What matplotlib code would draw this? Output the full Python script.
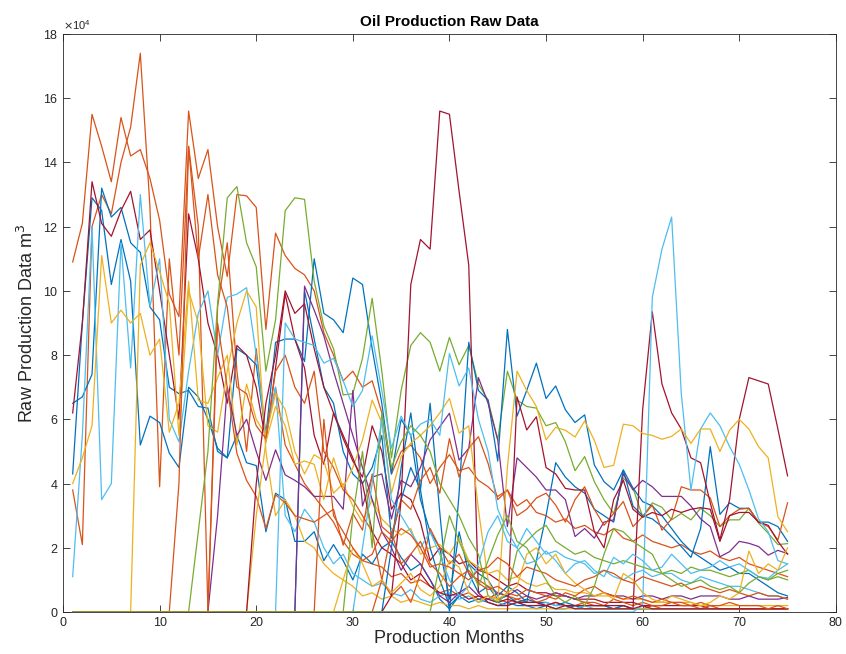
import numpy as np
import matplotlib
matplotlib.use("Agg")
from matplotlib import pyplot as plt

# MATLAB default colour order
blue = "#0072BD"
orange = "#D95319"
yellow = "#EDB120"
purple = "#7E2F8E"
green = "#77AC30"
lightblue = "#4DBEEE"
darkred = "#A2142F"

n_months = 75

# production per well, in units of 1e4 m^3, listed from the first month of production
w01 = [10.9, 12.1, 15.5, 14.5, 13.4, 15.4, 14.2, 14.4, 13.5, 12.2, 9.9, 9.2, 15.6, 13.5, 14.4, 12.0, 10.45, 13.0, 12.96, 12.6,
       8.8, 11.8, 11.1, 10.7, 10.5, 10.0, 8.7, 8.0, 7.2, 7.5, 7.0, 7.2, 6.2, 4.3, 5.0, 5.2, 4.8, 4.0, 4.5, 4.9,
       4.4, 4.5, 4.1, 3.9, 3.6, 3.8, 3.3, 3.5, 3.1, 3.0, 2.8, 2.9, 2.6, 2.7, 2.5, 2.4, 2.6, 2.3, 2.2, 2.4,
       2.2, 2.1, 2.0, 2.1, 1.9, 1.8, 1.9, 1.7, 1.6, 1.7, 1.5, 1.4, 1.3, 1.2, 1.1]
w02 = [3.8, 2.1, 12.0, 13.0, 12.4, 14.0, 15.1, 17.4, 12.6, 3.9, 11.0, 8.0, 14.5, 12.0, 0.0, 9.5, 11.5, 7.5, 5.0, 8.2,
       5.5, 7.0, 5.2, 4.6, 4.0, 3.6, 3.2, 2.8, 2.2, 1.8, 1.6, 1.5, 1.4, 1.1, 1.2, 0.9, 1.0, 0.8, 0.6, 0.7,
       0.5, 0.6, 0.4, 0.5, 0.4, 0.3, 0.4, 0.3, 0.3, 0.2, 0.3, 0.2, 0.2, 0.3, 0.2, 0.2, 0.1, 0.2, 0.1, 0.1,
       0.2, 0.1, 0.1, 0.1, 0.1, 0.1, 0.1, 0.1, 0.1, 0.1, 0.1, 0.1, 0.1, 0.1, 0.1]
w03 = [6.5, 6.7, 7.4, 13.2, 12.3, 12.6, 11.5, 11.2, 9.5, 9.1, 7.0, 6.8, 6.9, 6.4, 6.35, 5.0, 4.8, 5.5, 4.65, 4.56,
       2.5, 3.7, 3.5, 2.2, 2.2, 2.5, 1.6, 2.1, 1.6, 1.0, 1.8, 1.5, 2.0, 2.2, 1.7, 1.3, 1.5, 1.0, 0.4, 0.1,
       0.5, 0.3, 0.4, 0.3, 0.2, 0.3, 0.2, 0.2, 0.1, 0.2, 0.1, 0.1, 0.2, 0.1, 0.1, 0.1, 0.1, 0.1, 0.1, 0.1,
       0.1, 0.1, 0.1, 0.1, 0.1, 0.1, 0.1, 0.1, 0.1, 0.1, 0.1, 0.1, 0.1, 0.1, 0.1]
w04 = [4.3, 9.0, 12.9, 12.5, 10.2, 11.6, 10.3, 5.2, 6.1, 5.9, 4.95, 4.5, 7.0, 6.7, 6.0, 5.1, 4.8, 8.2, 8.0, 7.7,
       5.5, 8.4, 8.5, 8.5, 7.8, 11.0, 9.3, 9.1, 8.7, 10.4, 10.2, 8.2, 6.5, 4.3, 6.0, 5.5, 3.5, 2.5, 2.0, 0.4,
       2.5, 1.2, 0.6, 0.8, 0.4, 0.5, 0.3, 0.4, 0.3, 0.3, 0.2, 0.3, 0.2, 0.2, 0.2, 0.2, 0.1, 0.2, 0.1, 0.1,
       0.1, 0.1, 0.1, 0.1, 0.1, 0.1, 0.1, 0.1, 0.1, 0.1, 0.1, 0.1, 0.1, 0.1, 0.1]
w05 = [6.2, 9.0, 13.4, 12.1, 11.7, 12.5, 13.1, 11.6, 11.9, 10.0, 8.0, 6.0, 12.4, 11.0, 9.0, 8.0, 6.5, 8.3, 8.0, 7.0,
       5.3, 7.6, 9.9, 8.5, 7.6, 5.5, 4.6, 6.2, 5.4, 4.7, 4.2, 5.8, 5.0, 3.2, 3.7, 3.5, 2.8, 1.6, 2.0, 1.8,
       1.5, 1.6, 1.3, 1.2, 1.0, 0.8, 0.9, 0.7, 0.6, 0.6, 0.5, 0.5, 0.4, 0.4, 0.4, 0.3, 0.3, 0.3, 0.3, 0.2,
       0.2, 0.2, 0.2, 0.2, 0.2, 0.2, 0.1, 0.1, 0.1, 0.1, 0.1, 0.1, 0.1, 0.1, 0.1]
w06 = [1.1, 5.5, 12.0, 3.5, 4.0, 11.5, 7.6, 13.0, 9.5, 11.0, 6.0, 5.3, 7.5, 9.3, 10.0, 8.0, 9.8, 9.9, 10.1, 8.0,
       5.5, 7.0, 3.0, 2.5, 3.2, 2.8, 2.0, 1.5, 1.8, 1.2, 1.0, 0.8, 0.9, 0.6, 0.5, 0.7, 0.4, 0.3, 0.5, 0.6,
       0.4, 0.5, 0.3, 0.4, 0.3, 0.2, 0.3, 0.2, 0.2, 0.3, 0.2, 0.2, 0.1, 0.2, 0.1, 0.1, 0.1, 0.1, 0.1, 0.1,
       0.1, 0.1, 0.1, 0.1, 0.1, 0.1, 0.1, 0.1, 0.1, 0.1, 0.1, 0.1, 0.1, 0.1, 0.1]
w07 = [4.0, 4.8, 5.8, 11.1, 9.0, 9.4, 9.0, 9.3, 8.0, 8.5, 5.6, 6.5, 10.3, 6.6, 6.5, 7.3, 8.0, 5.2, 7.1, 6.0,
       5.5, 6.8, 6.3, 5.0, 4.3, 4.9, 4.7, 3.7, 4.0, 3.3, 2.8, 3.5, 2.9, 2.6, 2.4, 2.6, 1.8, 2.0, 2.1, 1.8,
       2.3, 1.6, 1.4, 1.2, 1.3, 1.0, 1.1, 0.9, 0.8, 0.9, 0.7, 0.7, 0.6, 0.6, 0.5, 0.5, 0.5, 0.4, 0.4, 0.4,
       0.3, 0.3, 0.3, 0.3, 0.3, 0.2, 0.2, 0.2, 0.2, 0.2, 0.2, 0.2, 0.2, 0.2, 0.2]
w08 = [0, 10.8, 11.5, 10.6, 9.6, 5.5, 10.0, 9.0, 5.8, 5.6, 7.5, 9.0, 10.0, 9.5, 5.0, 3.0, 3.5, 3.0, 2.2, 2.0,
       1.5, 1.2, 1.0, 0.8, 0.5, 0.6, 0.4, 0.5, 0.3, 0.4, 0.3, 0.2, 0.3, 0.2, 0.2, 0.1, 0.2, 0.1, 0.1, 0.1,
       0.1, 0.1, 0.1, 0.1, 0.1, 0.1, 0.1, 0.1, 0.1, 0.1, 0.1, 0.1, 0.1, 0.1, 0.1, 0.1, 0.1, 0.1, 0.1, 0.1,
       0.1, 0.1, 0.1, 0.1, 0.1, 0.1, 0.1, 0.1, 0.1]
w09 = [0, 4.0, 14.5, 11.0, 13.0, 10.5, 9.5, 7.0, 6.8, 5.8, 5.4, 7.5, 8.0, 7.0, 6.5, 7.5, 5.0, 4.5, 3.8, 3.5,
       3.0, 2.5, 1.0, 0.5, 0.8, 0.3, 1.2, 2.6, 2.0, 1.5, 1.8, 1.2, 1.0, 0.8, 0.6, 0.5, 0.4, 0.5, 0.3, 0.4,
       0.6, 0.5, 0.4, 0.3, 0.3, 0.2, 0.4, 0.3, 0.2, 0.3, 0.2, 0.2, 0.3, 0.2, 0.2, 0.1, 0.2, 0.1, 0.1, 0.1,
       0.1, 0.1, 0.1, 0.1, 0.1]
w10 = [0, 2.5, 5.0, 9.6, 12.9, 13.25, 11.5, 10.75, 7.5, 9.1, 12.5, 12.9, 12.85, 10.3, 8.9, 8.2, 6.76, 6.8, 7.9, 9.77,
       7.5, 4.8, 6.9, 8.3, 8.7, 8.4, 7.5, 8.55, 7.7, 8.3, 7.1, 6.6, 5.36, 7.5, 6.6, 6.4, 6.35, 5.8, 5.9, 5.3,
       4.4, 4.84, 4.06, 3.5, 3.07, 4.17, 3.86, 2.97, 3.4, 3.26, 2.87, 3.07, 2.87, 3.23, 3.0, 2.66, 2.87, 2.87, 3.23, 2.77,
       2.45, 2.1, 2.13]
w11 = [2.0, 4.5, 6.2, 3.8, 6.5, 3.1, 0.0, 3.7, 8.4, 6.9, 6.6, 4.7, 8.8, 6.1, 6.9, 7.75, 6.65, 7.04, 6.3, 5.9,
       6.14, 4.58, 4.06, 3.8, 4.42, 3.86, 3.44, 3.3, 3.0, 2.6, 2.2, 1.9, 1.7, 1.5, 1.3, 1.4, 1.2, 1.2, 1.0, 0.8,
       0.6, 0.5]
w12 = [0, 10.0, 8.5, 7.0, 6.5, 5.0, 4.3, 4.0, 4.5, 5.5, 2.3, 3.5, 4.5, 3.8, 2.0, 1.0, 0.2, 0.5, 1.5, 1.2,
       1.0, 0.5, 0.8, 0.6, 0.3, 1.6, 3.0, 4.65, 4.2, 3.9, 3.7, 3.2, 3.0, 2.8, 4.42, 3.3, 3.0, 2.9, 2.66, 2.35,
       2.04, 1.7, 2.6, 5.15, 3.04, 3.4, 3.23, 3.23, 2.8, 2.8, 2.66, 2.2]
w13 = [0, 3.0, 7.0, 5.5, 6.0, 5.0, 4.1, 5.05, 4.27, 4.1, 3.9, 3.6, 3.6, 3.6, 3.2, 6.9, 3.3, 4.2, 4.3, 2.9,
       4.1, 3.9, 4.5, 5.36, 5.77, 6.19, 4.73, 5.1, 7.3, 6.5, 5.36, 2.66, 4.8, 4.5, 4.2, 3.8, 3.8, 3.5, 2.35, 2.6,
       2.3, 2.8, 2.87, 4.3, 3.8, 4.1, 3.9, 3.6, 3.6, 3.6, 3.3, 2.9, 2.66, 1.72, 1.88, 2.2, 2.14, 2.04, 1.77, 1.92,
       1.82]
w14 = [0, 10.15, 9.4, 8.6, 7.5, 6.5, 5.5, 4.5, 3.5, 2.5, 2.0, 1.3, 1.8, 1.5, 1.0, 0.5, 0.3, 0.6, 0.8, 0.5,
       0.4, 0.6, 0.5, 0.7, 0.5, 0.4, 0.5, 0.6, 0.5, 0.4, 0.5, 0.5, 0.6, 0.5, 0.5, 0.4, 0.5, 0.5, 0.4, 0.5,
       0.5, 0.4, 0.5, 0.5, 0.5, 0.4, 0.4, 0.5, 0.4, 0.4, 0.4, 0.45]
w15 = [0, 9.0, 7.0, 4.94, 4.1, 3.6, 2.6, 3.65, 3.4, 3.0, 2.9, 2.8, 3.0, 3.2, 2.08, 3.07, 2.55, 4.3, 2.66, 2.4,
       3.5, 3.2, 4.1, 4.5, 3.7, 5.4, 4.2, 5.1, 5.46, 4.63, 3.5, 3.8, 3.0, 3.2, 3.55, 3.7, 3.33, 2.8, 3.5, 3.9,
       3.2, 2.7, 3.07, 3.44, 2.66, 2.97, 3.33, 2.55, 2.9, 3.9, 3.8, 3.8, 3.55, 2.66, 3.0, 3.2, 3.23, 2.8, 2.66, 2.24,
       3.4]
w16 = [0, 0.5, 3.5, 10.2, 11.6, 11.3, 15.6, 15.5, 13.1, 10.8, 0.6, 0.3,
       0.2, 0.2, 0.3, 0.2, 0.2, 0.2, 0.1, 0.2, 0.1, 0.1, 0.1, 0.1, 0.1, 0.1, 0.1,
       6.3, 9.35, 7.1, 6.2, 5.7, 4.8, 4.65, 3.4, 2.25, 3.5, 6.0, 7.3, 7.2, 7.1, 5.7, 4.24]
w17 = [0, 6.7, 5.67, 6.08, 4.5, 4.3, 3.85, 3.8, 3.8, 2.5, 2.0, 3.5, 4.1, 3.2, 2.95, 3.1, 3.0, 3.2, 3.1, 3.2,
       3.25, 3.2, 2.2, 3.0, 3.1, 3.1, 2.8, 2.7, 2.2, 1.8]
w18 = [0.2, 9.8, 11.3, 12.3, 6.8, 3.8, 5.7, 6.2, 5.8, 5.15, 4.6, 3.8, 2.9, 2.5, 1.6, 1.5]
w19 = [0, 3.0, 5.3, 6.4, 5.8, 4.6, 4.7, 4.6, 3.5, 4.8, 3.86, 4.5, 5.36, 6.6, 5.9, 3.7, 4.84, 5.26, 5.5, 5.8,
       6.2, 6.65, 5.57, 5.8, 3.2, 1.0, 0.3, 4.5, 7.5, 6.9, 6.4, 5.36, 5.75, 5.66, 5.45, 5.95, 5.35, 4.5, 4.57, 5.85,
       5.8, 5.56, 5.5, 5.38, 5.47, 5.7, 5.25, 5.7, 5.7, 5.0, 5.66, 6.0, 5.7, 5.15, 4.8, 2.97, 2.5]
w20 = [0, 4.0, 6.5, 8.0, 10.0, 9.3, 9.6, 8.2, 7.0, 6.2, 5.5, 4.8, 4.0, 2.5, 2.0, 1.8, 1.5, 1.0, 1.2, 0.8,
       0.6, 0.5, 0.6, 0.4, 0.5, 0.4, 0.3, 0.4, 0.3, 0.3, 0.3, 0.2, 0.3, 0.2, 0.2, 0.2, 0.2, 0.2, 0.2, 0.2,
       0.1, 0.2, 0.1, 0.1, 0.1, 0.1, 0.1, 0.1, 0.1, 0.1, 0.1, 0.1, 0.1, 0.1, 0.1, 0.1, 0.1]
w21 = [0, 9.0, 8.5, 8.4, 8.3, 7.75, 7.9, 7.2, 6.4, 6.9, 8.6, 6.9, 5.1, 6.1, 5.5, 5.85, 6.0, 5.5, 8.05, 7.04,
       7.6, 6.0, 5.0, 3.2, 2.5, 2.0, 2.6, 2.2, 1.8, 1.9, 1.7, 1.6, 1.5, 1.2, 1.3, 1.1, 1.0, 1.2, 1.3, 1.1,
       1.2, 1.2, 1.0, 0.9, 1.1, 1.0, 0.9, 0.8, 0.8, 0.7, 0.6, 0.5, 0.5, 0.4]
w22 = [0, 3.0, 5.0, 2.0, 6.2, 4.5, 5.3, 5.8, 5.5, 5.0, 4.0, 3.5, 3.0, 2.3, 1.8, 0.5, 0.3, 0.6, 1.9, 2.2,
       2.5, 2.7, 2.2, 2.0, 1.8, 1.9, 1.7, 1.6, 1.5, 1.6, 1.5, 1.4, 1.3, 1.2, 1.3, 1.2, 1.4, 1.3, 1.3, 1.2,
       1.1, 1.2, 1.3, 1.1, 1.0, 1.1, 1.0]
w23 = [0, 2.0, 4.0, 6.0, 3.5, 3.0, 2.5, 2.0, 2.5, 1.8, 1.0, 0.5, 0.8, 1.5, 2.5, 3.0, 2.2, 2.0, 1.5, 1.6,
       1.9, 1.6, 1.2, 1.5, 1.6, 1.3, 1.1, 1.7, 1.5, 1.8, 1.6, 1.3, 1.4, 1.8, 1.5, 1.2, 1.3, 1.4, 1.6, 1.4,
       1.5, 1.3, 1.1, 1.05, 1.3, 1.5]
w24 = [0, 1.0, 2.5, 1.5, 1.8, 2.2, 1.5, 1.2, 0.8, 1.1, 1.3, 0.9, 0.7, 0.8, 0.6, 0.5, 0.7, 0.6, 0.5, 0.4,
       0.6, 0.5, 0.7, 0.8, 0.6, 0.5, 0.4, 0.5, 0.4, 0.3, 0.4, 0.3, 0.3, 0.2, 0.3, 0.2, 0.2, 0.3, 0.2, 0.2,
       0.2, 0.1, 0.2, 0.1]
w25 = [0, 1.0, 2.0, 1.5, 0.8, 1.0, 0.6, 0.9, 1.2, 0.7, 0.5, 0.8, 1.6, 1.4, 0.6, 0.3, 0.5, 0.4, 0.6, 0.8,
       1.8, 2.0, 1.5, 1.8, 1.2, 0.9, 0.7, 0.5, 0.6, 0.4, 1.2, 1.0, 0.6, 0.4, 0.3, 0.5, 0.4, 0.3, 0.2, 0.3,
       0.5, 0.4, 0.6, 1.9, 1.2, 1.5, 1.3, 2.0]
w26 = [0, 6.0, 3.0, 2.5, 2.0, 1.6, 1.8, 2.5, 2.2, 2.6, 2.4, 2.0, 1.4, 1.5, 1.4, 1.2, 1.0, 1.3, 1.4, 1.7,
       1.5, 1.1, 1.4, 1.3, 1.2, 1.0, 0.9, 0.8, 1.0, 1.1, 1.3, 1.2, 1.0, 0.9, 1.1, 1.0, 0.9, 0.8, 0.9, 0.7,
       0.8, 0.7, 0.6, 0.7, 0.6, 0.5, 0.6, 0.5, 0.5, 0.4]
w27 = [0, 1.5, 3.0, 2.2, 1.5, 0.8, 1.6, 2.4, 3.0, 2.2, 2.0, 1.5, 1.0, 0.5, 0.3, 0.5, 0.2, 0.8, 1.8, 2.6,
       2.5, 2.2, 2.0, 1.8, 1.2, 1.0, 0.8, 0.9, 1.0, 0.8, 0.7, 0.8, 0.6, 0.9, 1.1, 1.0, 1.2, 1.3]

# first production month of each well, and its line colour
wells = [w01, w02, w03, w04, w05, w06, w07, w08, w09, w10, w11, w12, w13, w14,
         w15, w16, w17, w18, w19, w20, w21, w22, w23, w24, w25, w26, w27]
starts = [1, 1, 1, 1, 1, 1, 1, 7, 11, 13, 34, 24, 15, 24,
          15, 33, 46, 60, 19, 19, 22, 29, 30, 32, 28, 26, 38]
colors = [orange, orange, blue, blue, darkred, lightblue, yellow, yellow, orange, green, blue, blue, purple, purple,
          orange, darkred, darkred, lightblue, yellow, darkred, lightblue, green, lightblue, orange, yellow, orange, green]

plt.rcParams["font.family"] = ["Liberation Sans", "DejaVu Sans"]

fig = plt.figure(figsize=(8.46, 6.54), dpi=100)
ax = fig.add_axes([0.0745, 0.0642, 0.9135, 0.8838])

for vals, s, c in zip(wells, starts, colors):
    y = np.concatenate([np.zeros(s - 1), np.array(vals)]) * 1e4
    x = np.arange(1, len(y) + 1)
    ax.plot(x, y, color=c, lw=0.9)

ax.set_xlim(0, 80)
ax.set_ylim(0, 18e4)
ax.set_xticks(np.arange(0, 81, 10))
ax.set_yticks(np.arange(0, 18.1e4, 2e4))
ax.ticklabel_format(axis="y", style="sci", scilimits=(4, 4), useMathText=True)
ax.yaxis.get_offset_text().set_fontsize(8)
ax.tick_params(direction="in", top=True, right=True, length=5, width=0.6,
               labelsize=9, colors="#262626")
for sp in ax.spines.values():
    sp.set_linewidth(0.6)
    sp.set_color("#262626")

ax.set_title("Oil Production Raw Data", fontsize=11, fontweight="bold", pad=6)
ax.set_xlabel("Production Months", fontsize=13, color="#262626", labelpad=1)
ax.set_ylabel("Raw Production Data m$^3$", fontsize=13, color="#262626", labelpad=4)

plt.savefig("out.png", dpi=100)
